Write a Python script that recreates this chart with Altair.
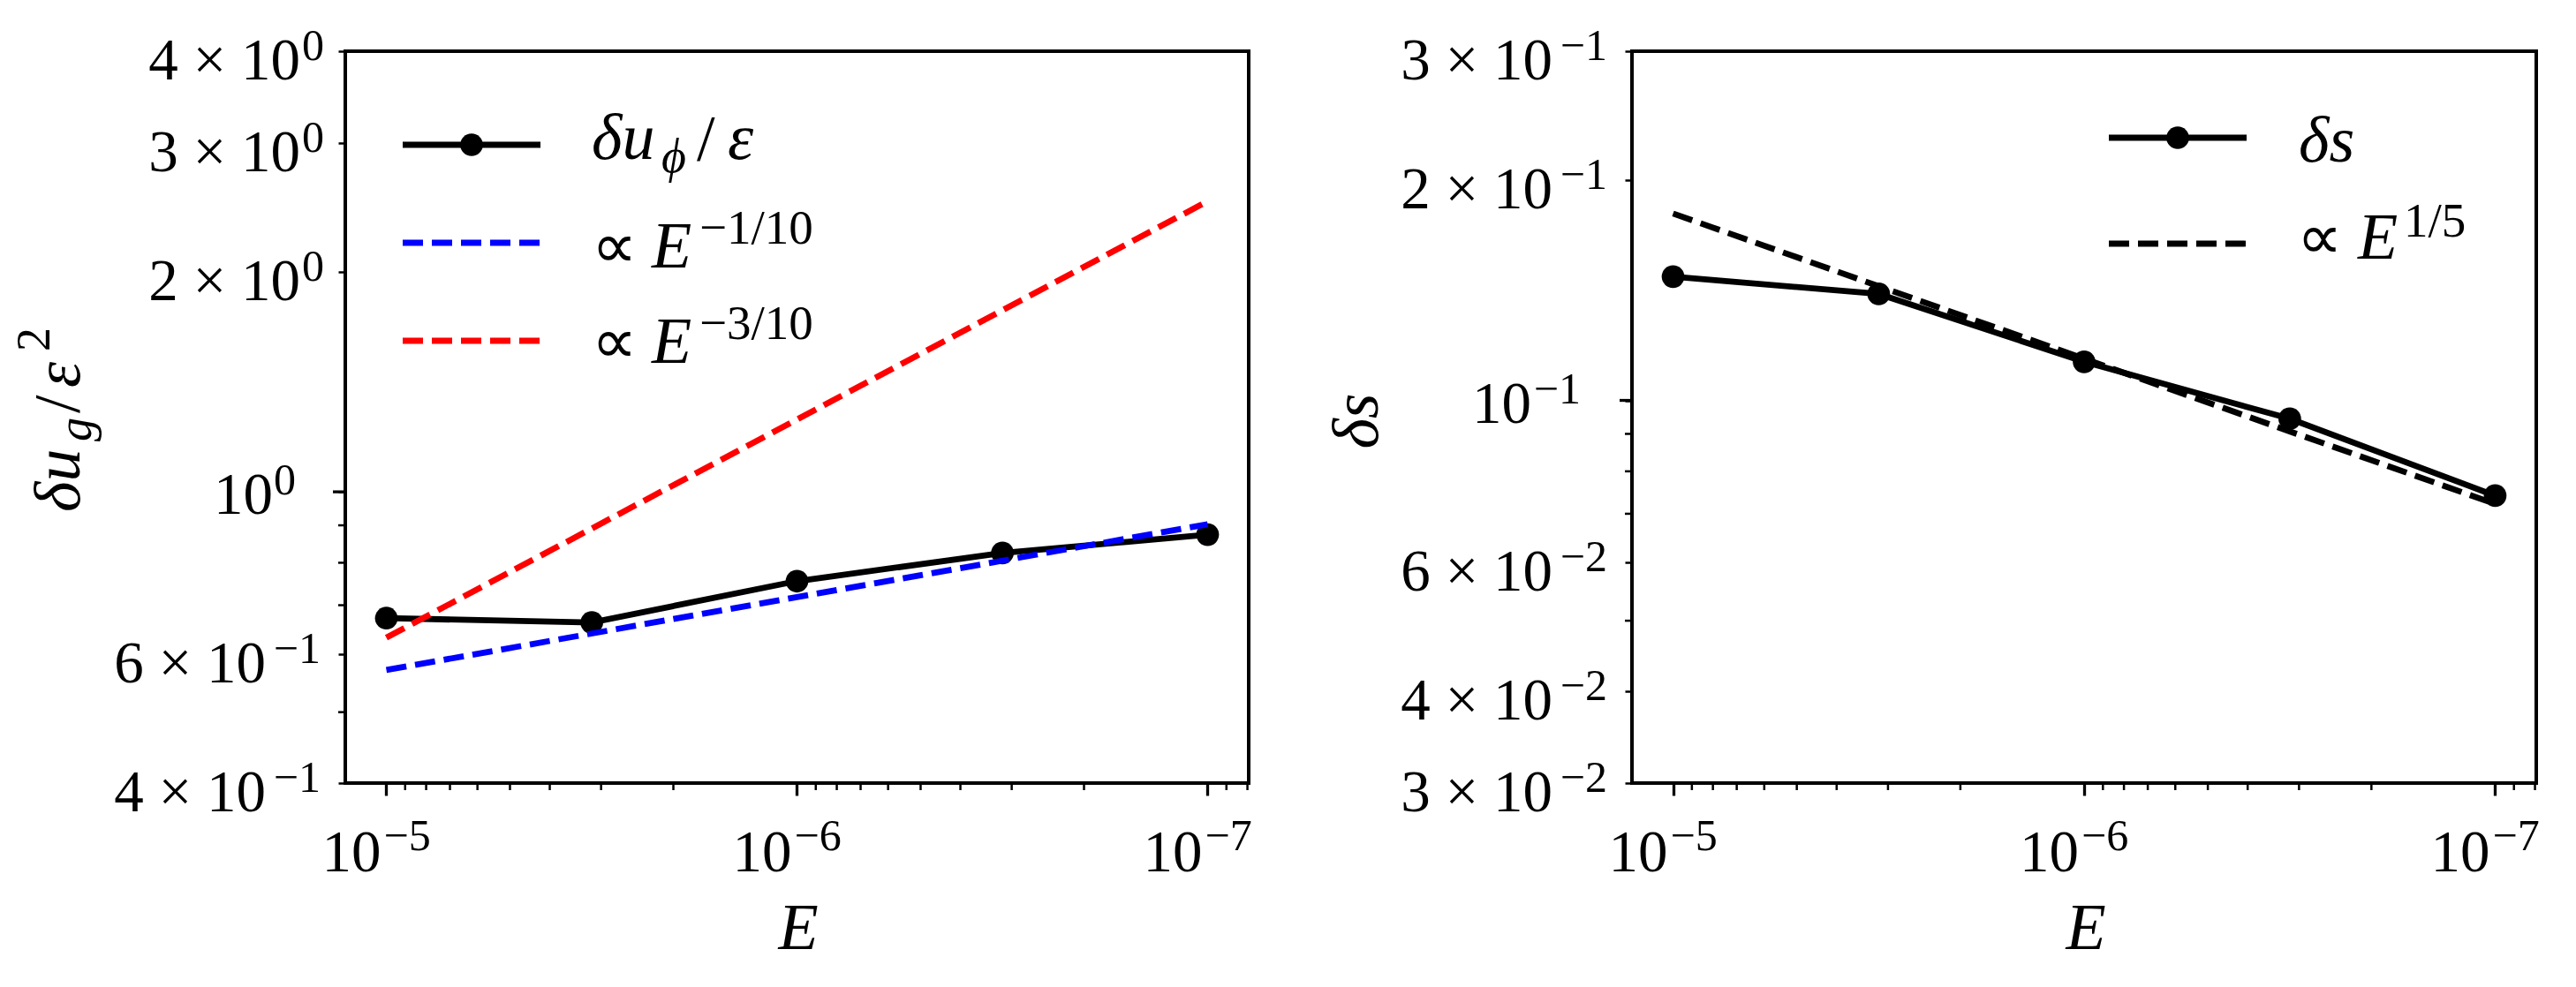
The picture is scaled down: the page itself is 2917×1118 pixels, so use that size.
import altair as alt
import pandas as pd

FONT = "Liberation Serif"
LW = 6.8
DASH = [23, 10]
MS = 660
LAB = 67      # tick label size
SUP = 50      # tick label exponent size

# ---------------- data ----------------
E_vals = [1e-5, 3.16e-6, 1e-6, 3.16e-7, 1e-7]
du_phi = [0.672, 0.663, 0.755, 0.825, 0.874]          # delta u_phi / eps
fit_m110_E = [1e-5, 1e-7]
fit_m110_v = [0.571, 0.903]                           # ~ E^-1/10
fit_m310_E = [1e-5, 1e-7]
fit_m310_v = [0.632, 2.495]                           # ~ E^-3/10

ds_vals = [0.1476, 0.1398, 0.1129, 0.0944, 0.0741]    # delta s
fit_p15_E = [1e-5, 1e-7]
fit_p15_v = [0.180, 0.0722]                           # ~ E^1/5

# ---------------- ticks and tick labels ----------------
x_major = [1e-5, 1e-6, 1e-7]
x_lab_base = ["10", "10", "10"]
x_lab_exp = ["−5", "−6", "−7"]
x_minor = [9e-6, 8e-6, 7e-6, 6e-6, 5e-6, 4e-6, 3e-6, 2e-6,
           9e-7, 8e-7, 7e-7, 6e-7, 5e-7, 4e-7, 3e-7, 2e-7, 9e-8, 8e-8]
x_domain = [7.943e-8, 1.2589e-5]

yl_ticks = [0.4, 0.6, 1, 2, 3, 4]
yl_lab_base = ["4 × 10", "6 × 10", "10", "2 × 10", "3 × 10", "4 × 10"]
yl_lab_exp = ["−1", "−1", "0", "0", "0", "0"]
yl_minor = [0.5, 0.7, 0.8, 0.9]
yl_major = [1]
yl_domain = [0.4, 4]

yr_ticks = [0.03, 0.04, 0.06, 0.1, 0.2, 0.3]
yr_lab_base = ["3 × 10", "4 × 10", "6 × 10", "10", "2 × 10", "3 × 10"]
yr_lab_exp = ["−2", "−2", "−2", "−1", "−1", "−1"]
yr_minor = [0.05, 0.07, 0.08, 0.09]
yr_major = [0.1]
yr_domain = [0.03, 0.3]

W1, W2, H = 1023, 1024, 829

one = pd.DataFrame({"k": [0]})

xs = alt.Scale(type="log", domain=x_domain, reverse=True, nice=False)


def xaxis():
    return alt.Axis(values=x_major, labels=False, tickSize=14, tickWidth=3.3,
                    tickColor="black", domain=False, grid=False, title=None)


def yaxis(vals):
    return alt.Axis(values=vals, labels=False, tickSize=8, tickWidth=2.5,
                    tickColor="black", domain=False, grid=False, title=None)


def txt(s, x, y, size, italic=False, angle=0, align="left"):
    kw = dict(font=FONT, fontSize=size, align=align, baseline="alphabetic", color="black")
    if italic:
        kw["fontStyle"] = "italic"
    if angle:
        kw["angle"] = angle
    return alt.Chart(one).mark_text(**kw).encode(
        x=alt.value(x), y=alt.value(y), text=alt.value(s))


def seg(x1, x2, y, color, dash=None):
    kw = dict(color=color, strokeWidth=LW)
    if dash:
        kw["strokeDash"] = dash
        kw["strokeCap"] = "butt"
    return alt.Chart(one).mark_rule(**kw).encode(
        x=alt.value(x1), x2=alt.value(x2), y=alt.value(y))


def dot(x, y):
    return alt.Chart(one).mark_circle(size=MS, color="black", opacity=1).encode(
        x=alt.value(x), y=alt.value(y))


def panel_layers(E, vals, ys, yvals, ybase, yexp, fits, ymin, ymaj):
    X = lambda f: alt.X(f, scale=xs, axis=xaxis())
    Y = lambda f: alt.Y(f, scale=ys, axis=yaxis(yvals))
    df = pd.DataFrame({"E": E, "v": vals})
    line = alt.Chart(df).mark_line(color="black", strokeWidth=LW).encode(
        x=X("E:Q"), y=Y("v:Q"))
    pts = alt.Chart(df).mark_circle(size=MS, color="black", opacity=1).encode(
        x=X("E:Q"), y=Y("v:Q"))
    layers = [line, pts]
    for fe, fv, col in fits:
        fdf = pd.DataFrame({"E": fe, "v": fv})
        layers.append(alt.Chart(fdf).mark_line(color=col, strokeWidth=LW,
                                               strokeDash=DASH, strokeCap="butt").encode(
            x=X("E:Q"), y=Y("v:Q")))
    # minor x ticks
    layers.append(alt.Chart(pd.DataFrame({"E": x_minor})).mark_rule(
        color="black", strokeWidth=2.5).encode(
        x=X("E:Q"), y=alt.value(H), y2=alt.value(H + 8)))
    # minor unlabeled y ticks
    layers.append(alt.Chart(pd.DataFrame({"v": ymin})).mark_rule(
        color="black", strokeWidth=2.5).encode(
        y=Y("v:Q"), x=alt.value(-8), x2=alt.value(0)))
    # major y tick (decade)
    layers.append(alt.Chart(pd.DataFrame({"v": ymaj})).mark_rule(
        color="black", strokeWidth=3.3).encode(
        y=Y("v:Q"), x=alt.value(-14), x2=alt.value(0)))

    # x tick labels  10^{-n}
    xl = pd.DataFrame({"E": x_major, "b": x_lab_base, "e": x_lab_exp})
    layers.append(alt.Chart(xl).mark_text(font=FONT, fontSize=LAB, align="right",
                                          baseline="alphabetic", dx=-6, color="black").encode(
        x=X("E:Q"), y=alt.value(H + 100), text="b:N"))
    layers.append(alt.Chart(xl).mark_text(font=FONT, fontSize=SUP, align="left",
                                          baseline="alphabetic", dx=-3, color="black").encode(
        x=X("E:Q"), y=alt.value(H + 76), text="e:N"))

    # y tick labels  a x 10^{b}
    yl = pd.DataFrame({"v": yvals, "b": ybase, "e": yexp})
    yl["major"] = yl["b"] == "10"
    yl["wide"] = yl["e"].str.startswith("−")
    # (is major, is wide exponent) -> (base right edge, exponent right edge, baseline shift)
    offs = {(False, False): (-51, -24, 32), (False, True): (-90, -28, 32),
            (True, False): (-82, -56, 25), (True, True): (-114, -58, 25)}
    for (mj, wd), (bx, ex, sh) in offs.items():
        sub = yl[(yl["major"] == mj) & (yl["wide"] == wd)]
        if len(sub) == 0:
            continue
        sub = sub[["v", "b", "e"]]
        layers.append(alt.Chart(sub).mark_text(font=FONT, fontSize=LAB, align="right",
                                               baseline="alphabetic", dy=sh, color="black").encode(
            y=Y("v:Q"), x=alt.value(bx), text="b:N"))
        layers.append(alt.Chart(sub).mark_text(font=FONT, fontSize=SUP, align="right",
                                               baseline="alphabetic", dy=sh - 22, color="black").encode(
            y=Y("v:Q"), x=alt.value(ex), text="e:N"))
    return layers


yls = alt.Scale(type="log", domain=yl_domain, nice=False)
yrs = alt.Scale(type="log", domain=yr_domain, nice=False)

left_layers = panel_layers(E_vals, du_phi, yls, yl_ticks, yl_lab_base, yl_lab_exp,
                           [(fit_m110_E, fit_m110_v, "#0000ff"),
                            (fit_m310_E, fit_m310_v, "#ff0000")],
                           yl_minor, yl_major)
left_layers += [
    # legend
    seg(65, 221, 106, "black"), dot(143, 106),
    seg(65, 221, 217, "#0000ff", DASH),
    seg(65, 221, 328, "#ff0000", DASH),
    txt("δu", 279, 122, 74, italic=True),
    txt("ϕ", 358, 137, 54, italic=True),
    txt("/", 398, 124, 74),
    txt("ε", 433, 122, 74, italic=True),
    txt("∝", 279, 245, 72),
    txt("E", 347, 245, 74, italic=True),
    txt("−1/10", 401, 218, 55),
    txt("∝", 279, 353, 72),
    txt("E", 347, 353, 74, italic=True),
    txt("−3/10", 401, 326, 55),
    # y title  delta u_g / eps^2
    txt("δu", -301, 522, 74, italic=True, angle=270),
    txt("g", -288, 442, 54, italic=True, angle=270),
    txt("/", -301, 410, 74, angle=270),
    txt("ε", -301, 381, 74, italic=True, angle=270),
    txt("2", -335, 340, 54, angle=270),
    # x title
    txt("E", 513, 1017, 74, italic=True, align="center"),
    # layout anchor
    alt.Chart(one).mark_circle(size=1, color="white", opacity=1).encode(
        x=alt.value(-380), y=alt.value(-47)),
]
left = alt.layer(*left_layers).properties(width=W1, height=H)

right_layers = panel_layers(E_vals, ds_vals, yrs, yr_ticks, yr_lab_base, yr_lab_exp,
                            [(fit_p15_E, fit_p15_v, "black")],
                            yr_minor, yr_major)
right_layers += [
    seg(540, 696, 98, "black"), dot(618, 98),
    seg(540, 696, 218, "black", DASH),
    txt("δs", 755, 125, 74, italic=True),
    txt("∝", 753, 235, 72),
    txt("E", 822, 235, 74, italic=True),
    txt("1/5", 874, 210, 55),
    txt("δs", -288, 419, 74, italic=True, angle=270, align="center"),
    txt("E", 514, 1017, 74, italic=True, align="center"),
]
right = alt.layer(*right_layers).properties(width=W2, height=H)

chart = alt.hconcat(left, right, spacing=434, bounds="flush").properties(
    padding=0, background="white"
).configure_view(stroke="black", strokeWidth=4)

chart.save("out.html", embed_options={"renderer": "svg", "actions": False})
